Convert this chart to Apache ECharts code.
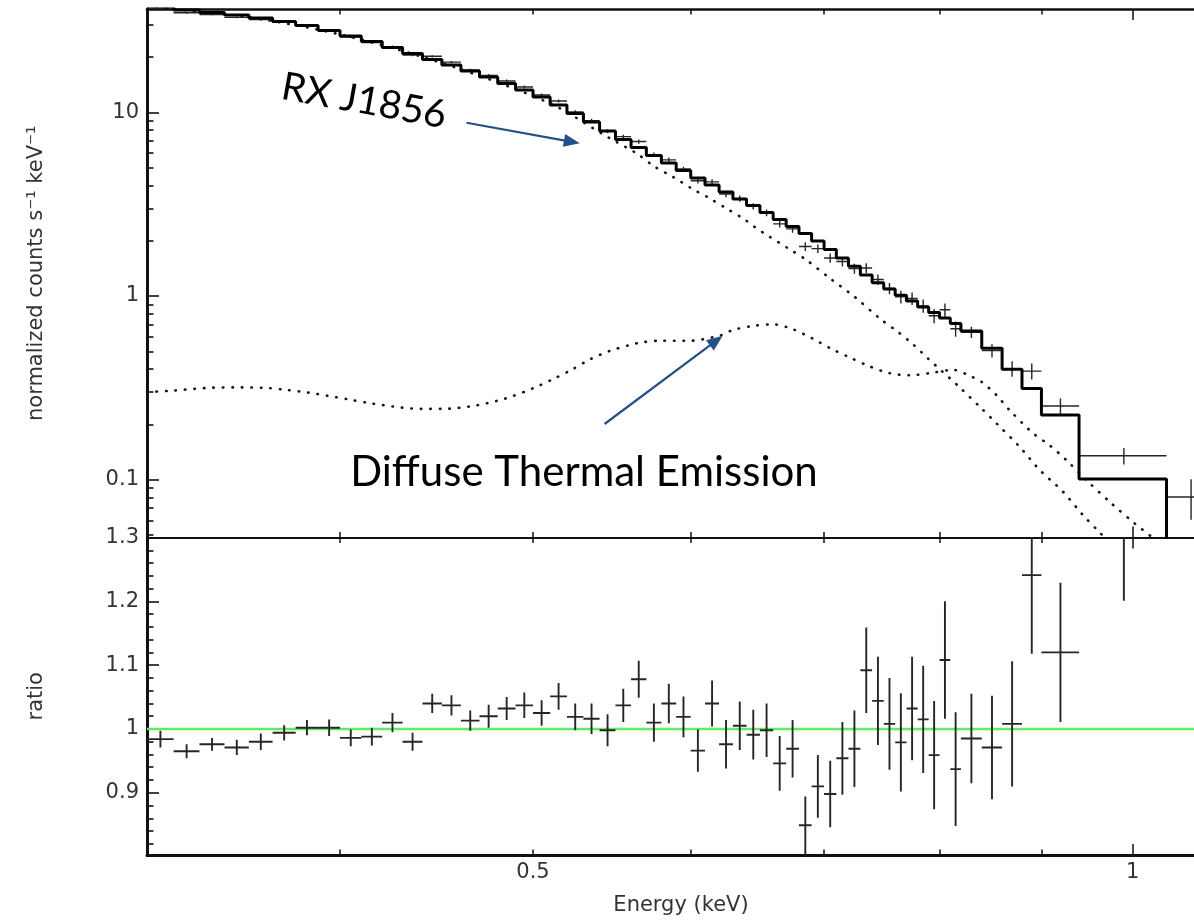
<!DOCTYPE html>
<html>
<head>
<meta charset="utf-8">
<title>RX J1856 spectrum</title>
<script src="https://cdn.jsdelivr.net/npm/echarts@6/dist/echarts.min.js"></script>
<style>
  html, body { margin: 0; padding: 0; background: #ffffff; }
  #chart { width: 1194px; height: 920px; }
</style>
</head>
<body>
<div id="chart"></div>
<script>
// Spectral bins (keV): lower/upper edges of each channel group
const binEdges = [
  0.32, 0.33, 0.34, 0.35, 0.36, 0.37, 0.38, 0.39, 0.40, 0.41,
  0.42, 0.43, 0.44, 0.45, 0.46, 0.47, 0.48, 0.49, 0.50, 0.51,
  0.52, 0.53, 0.54, 0.55, 0.56, 0.57, 0.58, 0.59, 0.60, 0.61,
  0.62, 0.63, 0.64, 0.65, 0.66, 0.67, 0.68, 0.69, 0.70, 0.71,
  0.72, 0.73, 0.74, 0.75, 0.76, 0.77, 0.78, 0.79, 0.80, 0.81,
  0.82, 0.84, 0.86, 0.88, 0.90, 0.94, 1.04, 1.10
];

// Folded total model (counts s^-1 keV^-1), one value per bin
const modelCounts = [
  37.43, 36.06, 34.94, 33.86, 32.61, 31.21, 29.68, 27.88, 26.03, 24.29,
  22.53, 20.90, 19.39, 18.09, 16.78, 15.57, 14.35, 13.23, 12.12, 10.96,
  9.85, 8.86, 7.91, 7.11, 6.43, 5.82, 5.30, 4.82, 4.39, 4.02,
  3.68, 3.37, 3.11, 2.85, 2.61, 2.39, 2.19, 1.99, 1.79, 1.61,
  1.45, 1.30, 1.18, 1.09, 1.01, 0.939, 0.871, 0.813, 0.759, 0.708,
  0.645, 0.519, 0.399, 0.314, 0.225, 0.101, 0.030
];

// Observed rates and 1-sigma errors
const dataCounts = [
  36.83, 34.80, 34.10, 32.88, 31.96, 31.02, 29.74, 27.94, 25.67, 24.00,
  22.76, 20.48, 20.17, 18.76, 17.00, 15.88, 14.81, 13.72, 12.42, 11.52,
  10.04, 9.00, 7.89, 7.37, 6.93, 5.88, 5.51, 4.91, 4.24, 4.18,
  3.59, 3.39, 3.08, 2.84, 2.47, 2.32, 1.86, 1.81, 1.61, 1.54,
  1.41, 1.42, 1.23, 1.10, 0.989, 0.969, 0.884, 0.780, 0.841, 0.663,
  0.635, 0.504, 0.402, 0.390, 0.252, 0.135, 0.0805
];
const dataErr = [
  0.49, 0.40, 0.35, 0.41, 0.42, 0.37, 0.36, 0.36, 0.34, 0.34,
  0.34, 0.29, 0.29, 0.29, 0.27, 0.28, 0.26, 0.26, 0.24, 0.23,
  0.21, 0.21, 0.20, 0.18, 0.19, 0.17, 0.16, 0.15, 0.14, 0.14,
  0.14, 0.13, 0.12, 0.12, 0.11, 0.11, 0.10, 0.098, 0.093, 0.092,
  0.087, 0.087, 0.081, 0.078, 0.078, 0.076, 0.073, 0.069, 0.070, 0.063,
  0.045, 0.042, 0.039, 0.039, 0.025, 0.014, 0.020
];

// Data / model ratio and errors
const ratioValues = [
  0.984, 0.965, 0.976, 0.971, 0.980, 0.994, 1.002, 1.002, 0.986, 0.988,
  1.010, 0.980, 1.040, 1.037, 1.013, 1.020, 1.032, 1.037, 1.025, 1.051,
  1.019, 1.016, 0.998, 1.037, 1.078, 1.010, 1.040, 1.019, 0.966, 1.040,
  0.976, 1.005, 0.991, 0.998, 0.946, 0.969, 0.849, 0.910, 0.898, 0.954,
  0.969, 1.092, 1.044, 1.008, 0.979, 1.032, 1.015, 0.959, 1.108, 0.937,
  0.985, 0.971, 1.008, 1.241, 1.120, 1.340, 2.68
];
const ratioErr = [
  0.013, 0.011, 0.010, 0.012, 0.013, 0.012, 0.012, 0.013, 0.013, 0.014,
  0.015, 0.014, 0.015, 0.016, 0.016, 0.018, 0.018, 0.020, 0.020, 0.021,
  0.021, 0.024, 0.025, 0.026, 0.029, 0.030, 0.031, 0.032, 0.033, 0.036,
  0.038, 0.038, 0.039, 0.042, 0.043, 0.045, 0.045, 0.049, 0.052, 0.057,
  0.060, 0.067, 0.069, 0.072, 0.077, 0.081, 0.084, 0.085, 0.092, 0.089,
  0.070, 0.081, 0.098, 0.123, 0.109, 0.139, 0.67
];

// Neutron-star surface component: [keV, counts s^-1 keV^-1]
const starComponent = [
  [0.320, 38.0], [0.3247, 37.1], [0.3602, 32.9], [0.4045, 25.8], [0.4541, 17.95],
  [0.5097, 11.2], [0.5464, 7.22], [0.5636, 5.98], [0.5754, 5.06], [0.5877, 4.46],
  [0.6004, 3.86], [0.6133, 3.40], [0.6252, 3.00], [0.6373, 2.65], [0.6459, 2.38],
  [0.6573, 2.10], [0.6714, 1.82], [0.6859, 1.57], [0.7046, 1.25], [0.7251, 0.991],
  [0.7464, 0.756], [0.7622, 0.639], [0.7755, 0.548], [0.7892, 0.458], [0.8189, 0.318],
  [0.8395, 0.245], [0.8543, 0.203], [0.8776, 0.151], [0.8982, 0.113], [0.9226, 0.0861],
  [0.9441, 0.0643], [0.9607, 0.0528], [0.9795, 0.0425]
];

// Diffuse thermal plasma component
const thermalComponent = [
  [0.320, 0.300], [0.3292, 0.305], [0.3451, 0.317], [0.3541, 0.318], [0.3671, 0.316],
  [0.3759, 0.308], [0.3855, 0.298], [0.3945, 0.286], [0.4037, 0.274], [0.4140, 0.261],
  [0.4294, 0.247], [0.4394, 0.243], [0.4498, 0.243], [0.4665, 0.252], [0.4839, 0.276],
  [0.5009, 0.317], [0.5117, 0.353], [0.5227, 0.396], [0.5338, 0.451], [0.5463, 0.502],
  [0.5592, 0.541], [0.5657, 0.557], [0.5789, 0.571], [0.6004, 0.571], [0.6085, 0.581],
  [0.6216, 0.613], [0.6300, 0.653], [0.6447, 0.687], [0.6597, 0.701], [0.6753, 0.659],
  [0.6911, 0.585], [0.7059, 0.516], [0.7207, 0.464], [0.7379, 0.414], [0.7551, 0.380],
  [0.7728, 0.370], [0.7908, 0.380], [0.8126, 0.396], [0.8300, 0.364], [0.8395, 0.342],
  [0.8543, 0.289], [0.8675, 0.239], [0.8913, 0.179], [0.9085, 0.154], [0.9262, 0.128],
  [0.9479, 0.0996], [0.9757, 0.0744], [1.0023, 0.0579], [1.0219, 0.0490], [1.038, 0.0425]
];

// Axis ticks and labels
const energyMajorTicks = [1];
const energyMinorTicks = [0.4, 0.5, 0.6, 0.7, 0.8, 0.9];
const energyTickLabels = [0.5, 1];
const countsMajorTicks = [0.1, 1, 10];
const countsMinorTicks = [0.05, 0.06, 0.07, 0.08, 0.09, 0.2, 0.3, 0.4, 0.5, 0.6, 0.7, 0.8, 0.9,
                          2, 3, 4, 5, 6, 7, 8, 9, 20, 30];
const countsTickLabels = [0.1, 1, 10];
const ratioMajorTicks = [0.9, 1.0, 1.1, 1.2];
const ratioMinorTicks = [0.82, 0.84, 0.86, 0.88, 0.92, 0.94, 0.96, 0.98, 1.02, 1.04, 1.06, 1.08,
                         1.12, 1.14, 1.16, 1.18, 1.22, 1.24, 1.26, 1.28];
const ratioTickLabels = [0.9, 1, 1.1, 1.2, 1.3];

// Annotation arrows, in data coordinates [keV, counts]
const starArrow = [[0.4630, 8.77], [0.5230, 6.90]];
const thermalArrow = [[0.5431, 0.2010], [0.6180, 0.5720]];

const E_MIN = 0.32, E_MAX = 1.1;
const C_MIN = 0.04846, C_MAX = 36.5;
const R_MIN = 0.8025, R_MAX = 1.3;

const INK = '#111111';
const TEXT = '#333333';
const FONT = 'DejaVu Sans';

const fmt = v => String(+(+v).toPrecision(6));

function xAxisDef(grid, position, ticks, len, showLine, lineWidth, labels, extra) {
  return Object.assign({
    type: 'log', logBase: 10, gridIndex: grid, position: position,
    min: E_MIN, max: E_MAX,
    axisLine: { show: showLine, onZero: false, lineStyle: { color: INK, width: lineWidth } },
    axisTick: { show: true, inside: true, length: len, customValues: ticks,
                lineStyle: { color: INK, width: 1.5 } },
    axisLabel: labels ? { show: true, customValues: labels, formatter: fmt, margin: 7,
                          color: TEXT, fontSize: 21, fontFamily: FONT, lineHeight: 22 }
                      : { show: false },
    splitLine: { show: false }, minorTick: { show: false }
  }, extra || {});
}

function yAxisDef(grid, type, min, max, ticks, len, showLine, labels, extra) {
  const ax = {
    type: type, gridIndex: grid, position: 'left', min: min, max: max,
    axisLine: { show: showLine, onZero: false, lineStyle: { color: INK, width: 3 } },
    axisTick: { show: true, inside: true, length: len, customValues: ticks,
                lineStyle: { color: INK, width: 1.6 } },
    axisLabel: labels ? { show: true, customValues: labels, formatter: fmt, margin: 8,
                          color: TEXT, fontSize: 21, fontFamily: FONT }
                      : { show: false },
    splitLine: { show: false }, minorTick: { show: false }
  };
  if (type === 'log') ax.logBase = 10;
  return Object.assign(ax, extra || {});
}

function crossRenderer(width, color) {
  return function (params, api) {
    const lo = api.value(0), hi = api.value(1), y = api.value(2), e = api.value(3);
    const mid = (lo + hi) / 2;
    const pL = api.coord([lo, y]), pR = api.coord([hi, y]);
    const pT = api.coord([mid, y + e]), pB = api.coord([mid, y - e]);
    const style = { stroke: color, lineWidth: width, fill: null };
    return {
      type: 'group',
      children: [
        { type: 'line', shape: { x1: pL[0], y1: pL[1], x2: pR[0], y2: pR[1] }, style: style },
        { type: 'line', shape: { x1: pT[0], y1: pT[1], x2: pB[0], y2: pB[1] }, style: style }
      ]
    };
  };
}

const nBins = binEdges.length - 1;
const countsCrosses = [], ratioCrosses = [], modelSteps = [];
for (let i = 0; i < nBins; i++) {
  const lo = binEdges[i], hi = binEdges[i + 1];
  countsCrosses.push([lo, hi, dataCounts[i], dataErr[i]]);
  ratioCrosses.push([lo, hi, ratioValues[i], ratioErr[i]]);
  modelSteps.push([lo, modelCounts[i]], [hi, modelCounts[i]]);
}

const dotted = { color: '#151515', width: 2.6, type: [0.5, 9], cap: 'round' };
const arrowStyle = { color: '#24508a', width: 2.2, type: 'solid' };

// The energy range runs past the right edge of the canvas
const GRID_LEFT = 147, GRID_WIDTH = 1068;

const option = {
  backgroundColor: '#ffffff',
  animation: false,
  grid: [
    { left: GRID_LEFT, width: GRID_WIDTH, top: 9, height: 528.5,
      containLabel: false, outerBoundsMode: 'none' },
    { left: GRID_LEFT, width: GRID_WIDTH, top: 537.5, height: 317.5,
      containLabel: false, outerBoundsMode: 'none' }
  ],
  xAxis: [
    xAxisDef(0, 'bottom', energyMajorTicks, 11, true, 2.2),
    xAxisDef(0, 'bottom', energyMinorTicks, 5.5, false, 2),
    xAxisDef(0, 'top', energyMajorTicks, 11, true, 2.6),
    xAxisDef(0, 'top', energyMinorTicks, 5.5, false, 2),
    xAxisDef(1, 'bottom', energyMajorTicks, 11, true, 3, energyTickLabels, {
      name: 'Energy (keV)', nameLocation: 'middle', nameGap: 40,
      nameTextStyle: { color: TEXT, fontSize: 21, fontFamily: FONT }
    }),
    xAxisDef(1, 'bottom', energyMinorTicks, 5.5, false, 2),
    xAxisDef(1, 'top', energyMajorTicks, 11, true, 2.2),
    xAxisDef(1, 'top', energyMinorTicks, 5.5, false, 2)
  ],
  yAxis: [
    yAxisDef(0, 'log', C_MIN, C_MAX, countsMajorTicks, 12, true, countsTickLabels, {
      name: 'normalized counts s\u207b\u00b9 keV\u207b\u00b9', nameLocation: 'middle', nameGap: 100,
      nameTextStyle: { color: TEXT, fontSize: 21, fontFamily: FONT }
    }),
    yAxisDef(0, 'log', C_MIN, C_MAX, countsMinorTicks, 6.5, false),
    yAxisDef(1, 'value', R_MIN, R_MAX, ratioMajorTicks, 12, true, ratioTickLabels, {
      name: 'ratio', nameLocation: 'middle', nameGap: 100,
      nameTextStyle: { color: TEXT, fontSize: 21, fontFamily: FONT }
    }),
    yAxisDef(1, 'value', R_MIN, R_MAX, ratioMinorTicks, 6.5, false)
  ],
  series: [
    {
      name: 'unity', type: 'line', xAxisIndex: 4, yAxisIndex: 2, z: 1,
      data: [[E_MIN, 1], [E_MAX, 1]], showSymbol: false, silent: true,
      lineStyle: { color: '#62ea62', width: 2.6 }
    },
    {
      name: 'ratio', type: 'custom', xAxisIndex: 4, yAxisIndex: 2, z: 3, clip: true,
      data: ratioCrosses, encode: { x: [0, 1], y: 2 },
      renderItem: crossRenderer(1.9, '#262626'), silent: true
    },
    {
      name: 'data', type: 'custom', xAxisIndex: 0, yAxisIndex: 0, z: 3, clip: true,
      data: countsCrosses, encode: { x: [0, 1], y: 2 },
      renderItem: crossRenderer(1.4, '#262626'), silent: true
    },
    {
      name: 'model', type: 'line', xAxisIndex: 0, yAxisIndex: 0, z: 4,
      data: modelSteps, showSymbol: false, clip: true, silent: true,
      lineStyle: { color: '#000000', width: 3 }
    },
    {
      name: 'neutron star', type: 'line', xAxisIndex: 0, yAxisIndex: 0, z: 2,
      data: starComponent, showSymbol: false, smooth: 0.3, clip: true, silent: true,
      lineStyle: dotted,
      markLine: {
        silent: true, symbol: ['none', 'triangle'], symbolSize: [13, 16],
        label: { show: false }, lineStyle: arrowStyle,
        data: [
          [{ coord: starArrow[0] }, { coord: starArrow[1] }],
          [{ coord: thermalArrow[0] }, { coord: thermalArrow[1] }]
        ]
      }
    },
    {
      name: 'thermal', type: 'line', xAxisIndex: 0, yAxisIndex: 0, z: 2,
      data: thermalComponent, showSymbol: false, smooth: 0.3, clip: true, silent: true,
      lineStyle: dotted
    }
  ],
  graphic: [
    {
      type: 'text', x: 364, y: 101, rotation: -0.178, silent: true,
      style: { text: 'RX J1856', fill: '#000000', fontSize: 39, fontFamily: 'Lato',
               align: 'center', verticalAlign: 'middle' }
    },
    {
      type: 'text', x: 584, y: 472, silent: true,
      style: { text: 'Diffuse Thermal Emission', fill: '#000000', fontSize: 42, fontFamily: 'Lato',
               align: 'center', verticalAlign: 'middle' }
    }
  ]
};

const chart = echarts.init(document.getElementById('chart'), null, { renderer: 'canvas' });
chart.setOption(option);
</script>
</body>
</html>
